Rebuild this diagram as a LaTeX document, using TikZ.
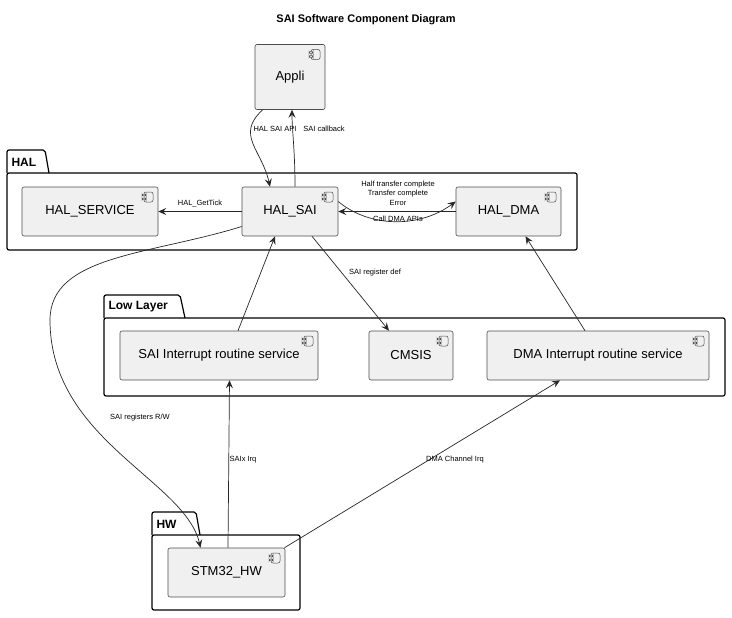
\documentclass[tikz,border=0pt]{standalone}
\usepackage{fontspec}
\setmainfont{Liberation Sans}
\usetikzlibrary{arrows.meta}
\begin{document}
\begin{tikzpicture}[x=1pt,y=-1pt,
  comp/.style={draw=black!70,fill=black!6,rounded corners=2pt,line width=0.6pt,font=\fontsize{13}{15}\selectfont,inner sep=0pt,
    path picture={\draw[black!70,line width=0.5pt,fill=black!6] ([xshift=-14pt,yshift=-5pt]path picture bounding box.north east) rectangle ([xshift=-5pt,yshift=-15pt]path picture bounding box.north east);
      \draw[black!70,line width=0.5pt,fill=black!6] ([xshift=-16pt,yshift=-7pt]path picture bounding box.north east) rectangle ([xshift=-12pt,yshift=-9pt]path picture bounding box.north east);
      \draw[black!70,line width=0.5pt,fill=black!6] ([xshift=-16pt,yshift=-11pt]path picture bounding box.north east) rectangle ([xshift=-12pt,yshift=-13pt]path picture bounding box.north east);}},
  pkg/.style={draw=black,line width=1.2pt,rounded corners=2pt},
  pkglbl/.style={font=\fontsize{12}{14}\selectfont\bfseries,anchor=west},
  lbl/.style={font=\fontsize{7.5}{9}\selectfont,align=center},
  arr/.style={-{Stealth[length=8pt,width=7pt,inset=3pt]},line width=0.7pt,black!85}]
\useasboundingbox (0,0) rectangle (732,618);
\node[font=\fontsize{11}{13}\selectfont\bfseries] (title) at (366,20) {SAI Software Component Diagram};
% packages
\draw[pkg] (7,173) -- (7,150) -- (45,150) -- (49,173);
\draw[pkg] (7,173) rectangle (577,250);
\node[pkglbl] (halp) at (8,162) {HAL};
\draw[pkg] (104,318) -- (104,295) -- (180,295) -- (185,318);
\draw[pkg] (104,318) rectangle (725,396);
\node[pkglbl] (llp) at (105,307) {Low Layer};
\draw[pkg] (152,535) -- (152,512) -- (196,512) -- (200,535);
\draw[pkg] (152,535) rectangle (300,610);
\node[pkglbl] (hwp) at (153,524) {HW};
% components
\node[comp,minimum width=70pt,minimum height=65pt] (appli) at (290,77) {Appli};
\node[comp,minimum width=136pt,minimum height=49pt] (svc) at (90,211.5) {HAL\_SERVICE};
\node[comp,minimum width=96pt,minimum height=49pt] (sai) at (290,211.5) {HAL\_SAI};
\node[comp,minimum width=105pt,minimum height=49pt] (dma) at (508.5,211.5) {HAL\_DMA};
\node[comp,minimum width=198pt,minimum height=49pt] (sairq) at (219,355.5) {SAI Interrupt routine service};
\node[comp,minimum width=84pt,minimum height=49pt] (cmsis) at (411,355.5) {CMSIS};
\node[comp,minimum width=222pt,minimum height=49pt] (dmairq) at (598,355.5) {DMA Interrupt routine service};
\node[comp,minimum width=117pt,minimum height=49pt] (hw) at (226.5,572.5) {STM32\_HW};
% edges
\draw[arr] (appli.south west) ++(8,0) coordinate (a1) .. controls (235,135) and (262,150) .. ([xshift=-20pt]sai.north);
\node[lbl] at (275,129) {HAL SAI API};
\draw[arr] ([xshift=5pt]sai.north) .. controls (295,150) and (292,130) .. ([xshift=2pt]appli.south);
\node[lbl] at (324,129) {SAI callback};
\draw[arr] (sai.west) -- (svc.east);
\node[lbl] at (200,204) {HAL\_GetTick};
\draw[arr] (dma.west) -- (sai.east);
\node[lbl,font=\fontsize{7.5}{9.5}\selectfont] at (398,193) {Half transfer complete\\Transfer complete\\Error};
\draw[arr] ([yshift=10pt]sai.east) .. controls (370,228) and (420,228) .. ([yshift=10pt]dma.west);
\node[lbl] at (398,219) {Call DMA APIs};
\draw[arr] ([xshift=22pt]sai.south) -- ([xshift=-22pt]cmsis.north);
\node[lbl] at (375,273) {SAI register def};
\draw[arr] ([xshift=19pt]sairq.north) -- ([xshift=-15pt]sai.south);
\draw[arr] ([xshift=-13pt]dmairq.north) -- ([xshift=17pt]dma.south);
\draw[arr] ([yshift=-15pt]sai.west) .. controls (150,255) and (50,255) .. (50,320) .. controls (50,440) and (185,480) .. ([xshift=-26pt]hw.north);
\node[lbl] at (140,418) {SAI registers R/W};
\draw[arr] ([xshift=1.5pt]hw.north) -- ([xshift=10.5pt]sairq.south);
\node[lbl] at (243,460) {SAIx Irq};
\draw[arr] ([xshift=58pt]hw.north) -- ([xshift=-38pt]dmairq.south);
\node[lbl] at (455,460) {DMA Channel Irq};
\end{tikzpicture}
\end{document}
